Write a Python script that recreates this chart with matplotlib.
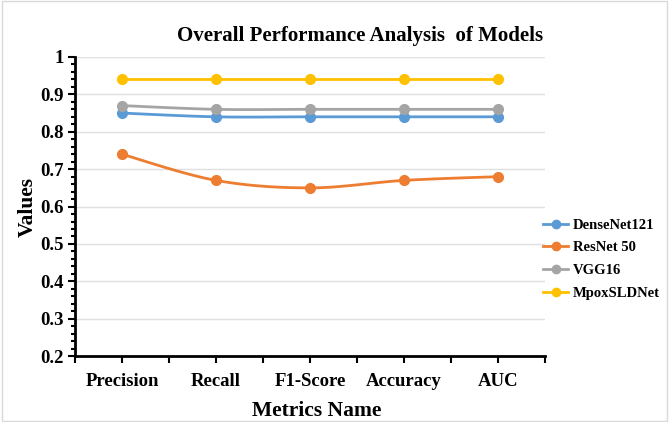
import matplotlib.pyplot as plt
import numpy as np

metrics = ['Precision', 'Recall', 'F1-Score', 'Accuracy', 'AUC']
densenet = [0.85, 0.84, 0.84, 0.84, 0.84]
resnet = [0.74, 0.67, 0.65, 0.67, 0.68]
vgg = [0.87, 0.86, 0.86, 0.86, 0.86]
mpox = [0.94, 0.94, 0.94, 0.94, 0.94]

names = ['DenseNet121', 'ResNet 50', 'VGG16', 'MpoxSLDNet']
colors = ['#5B9BD5', '#ED7D31', '#A5A5A5', '#FFC000']
yticks = [0.2, 0.3, 0.4, 0.5, 0.6, 0.7, 0.8, 0.9, 1.0]
ylabels = ['0.2', '0.3', '0.4', '0.5', '0.6', '0.7', '0.8', '0.9', '1']

plt.rcParams['font.family'] = 'Liberation Serif'
plt.rcParams['font.weight'] = 'bold'


def smooth(y, n=30):
    # Excel-like smoothed line (Catmull-Rom through the points)
    x = np.arange(len(y), dtype=float)
    y = np.asarray(y, dtype=float)
    px = np.concatenate([[x[0]], x, [x[-1]]])
    py = np.concatenate([[y[0]], y, [y[-1]]])
    xs, ys = [], []
    t = np.linspace(0, 1, n)
    for i in range(1, len(px) - 2):
        p0, p1, p2, p3 = [np.array([px[j], py[j]]) for j in range(i - 1, i + 3)]
        c1 = p1 + (p2 - p0) / 6
        c2 = p2 - (p3 - p1) / 6
        pts = ((1 - t) ** 3)[:, None] * p1 + (3 * (1 - t) ** 2 * t)[:, None] * c1 \
            + (3 * (1 - t) * t ** 2)[:, None] * c2 + (t ** 3)[:, None] * p2
        xs.extend(pts[:, 0])
        ys.extend(pts[:, 1])
    return np.array(xs), np.array(ys)


fig = plt.figure(figsize=(6.69, 4.22), dpi=100)
ax = fig.add_axes([0.112, 0.156, 0.703, 0.709])

x = np.arange(len(metrics))
for vals, name, c in zip([densenet, resnet, vgg, mpox], names, colors):
    sx, sy = smooth(vals)
    ax.plot(sx, sy, color=c, lw=2)
    ax.plot(x, vals, 'o', color=c, ms=7)
    ax.plot([], [], '-o', color=c, lw=2, ms=6, label=name)

ax.set_xlim(-0.5, 4.5)
ax.set_ylim(0.2, 1.0)
ax.set_xticks(x)
ax.set_xticklabels(metrics, fontsize=13.5)
ax.set_xticks(np.arange(-0.5, 5, 1), minor=True)
ax.set_yticks(yticks)
ax.set_yticklabels(ylabels, fontsize=13.5)
ax.set_yticks(np.arange(0.2, 1.001, 0.02), minor=True)
ax.tick_params(axis='x', which='both', direction='out', length=5, width=1.5, pad=7)
ax.tick_params(axis='y', which='major', direction='out', length=5, width=1.5, pad=3)
ax.tick_params(axis='y', which='minor', direction='out', length=3, width=1.5)
ax.grid(axis='y', color='#E0E0E0', lw=1)
ax.set_axisbelow(True)
for s in ['top', 'right']:
    ax.spines[s].set_visible(False)
ax.spines['left'].set_linewidth(2)
ax.spines['bottom'].set_linewidth(2)

fig.text(0.538, 1 - 36 / 422, 'Overall Performance Analysis  of Models', fontsize=15,
         fontweight='bold', ha='center', va='center')
ax.set_xlabel('Metrics Name', fontsize=15.5, fontweight='bold', labelpad=8)
ax.xaxis.label.set_x(0.515)
ax.set_ylabel('Values', fontsize=15.5, fontweight='bold', labelpad=2)

ax.legend(loc='center left', bbox_to_anchor=(0.996, 0.324), frameon=False, fontsize=10.5,
          handlelength=1.7, handletextpad=0.3, labelspacing=0.65, borderaxespad=0,
          borderpad=0)

fig.patches.append(plt.Rectangle((0.003, 0.003), 0.994, 0.994, transform=fig.transFigure,
                                 fill=False, edgecolor='#D9D9D9', lw=1))

plt.savefig('out.png')
